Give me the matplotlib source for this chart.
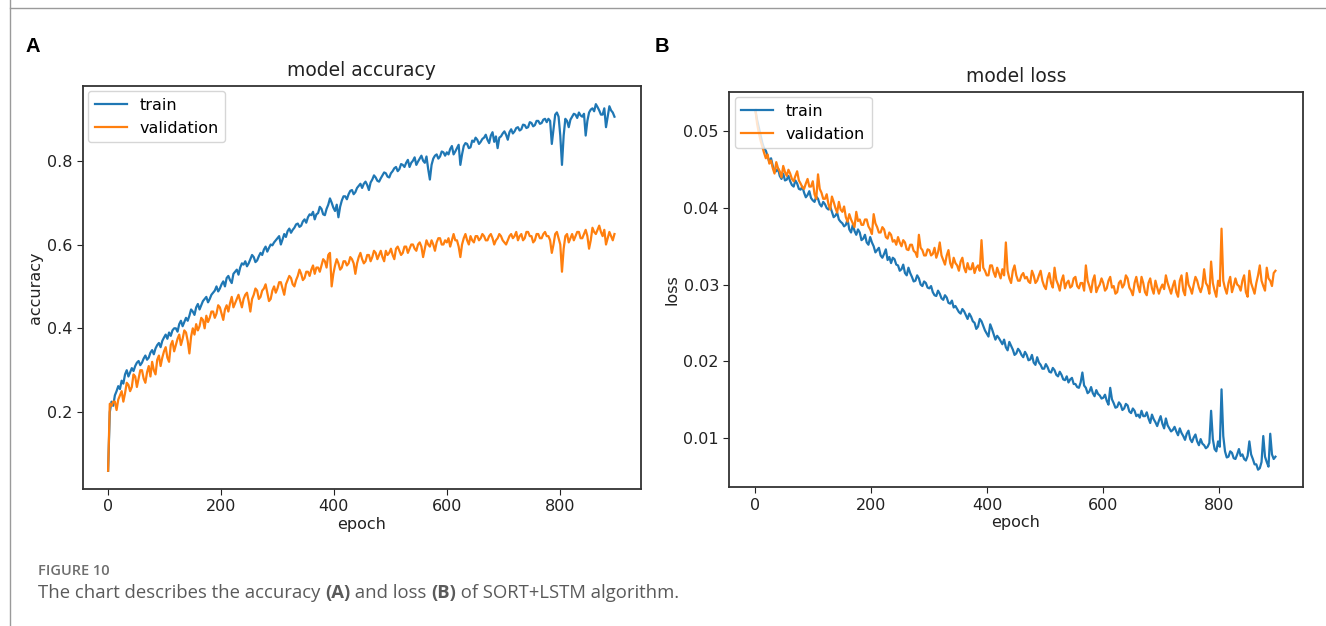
import numpy as np
import matplotlib
matplotlib.use("Agg")
import matplotlib.pyplot as plt
from matplotlib.lines import Line2D

epochs = np.arange(0, 900, 3)

acc_train = [
    0.06, 0.20, 0.225, 0.215, 0.24, 0.25, 0.262, 0.255, 0.275, 0.268, 0.29, 0.30, 0.285, 0.295, 0.305, 0.298, 0.31, 0.318, 0.322, 0.312,
    0.318, 0.328, 0.335, 0.325, 0.33, 0.342, 0.348, 0.338, 0.352, 0.36, 0.365, 0.355, 0.37, 0.378, 0.385, 0.375, 0.39, 0.382, 0.395, 0.40,
    0.40, 0.392, 0.41, 0.418, 0.405, 0.415, 0.425, 0.418, 0.43, 0.445, 0.44, 0.432, 0.45, 0.458, 0.445, 0.455, 0.465, 0.47, 0.475, 0.462,
    0.47, 0.48, 0.485, 0.49, 0.50, 0.488, 0.495, 0.505, 0.512, 0.50, 0.52, 0.525, 0.515, 0.508, 0.53, 0.535, 0.54, 0.528, 0.545, 0.555,
    0.552, 0.56, 0.548, 0.555, 0.565, 0.575, 0.57, 0.558, 0.562, 0.572, 0.58, 0.575, 0.588, 0.595, 0.583, 0.592, 0.60, 0.598, 0.605, 0.61,
    0.615, 0.62, 0.60, 0.612, 0.625, 0.618, 0.632, 0.638, 0.628, 0.635, 0.64, 0.648, 0.65, 0.642, 0.645, 0.655, 0.66, 0.652, 0.665, 0.672,
    0.67, 0.678, 0.66, 0.672, 0.675, 0.69, 0.685, 0.672, 0.67, 0.685, 0.695, 0.71, 0.70, 0.688, 0.68, 0.695, 0.665, 0.69, 0.705, 0.715,
    0.715, 0.708, 0.72, 0.728, 0.73, 0.72, 0.725, 0.735, 0.74, 0.745, 0.735, 0.745, 0.75, 0.742, 0.73, 0.748, 0.755, 0.765, 0.76, 0.752,
    0.75, 0.758, 0.765, 0.772, 0.77, 0.762, 0.76, 0.77, 0.775, 0.782, 0.785, 0.775, 0.78, 0.792, 0.79, 0.785, 0.795, 0.802, 0.785, 0.795,
    0.80, 0.808, 0.79, 0.798, 0.805, 0.812, 0.80, 0.795, 0.81, 0.78, 0.755, 0.79, 0.805, 0.812, 0.815, 0.805, 0.81, 0.822, 0.82, 0.812,
    0.82, 0.815, 0.828, 0.835, 0.815, 0.822, 0.83, 0.838, 0.79, 0.815, 0.835, 0.842, 0.84, 0.83, 0.832, 0.848, 0.845, 0.855, 0.85, 0.84,
    0.845, 0.852, 0.855, 0.862, 0.85, 0.842, 0.86, 0.868, 0.845, 0.858, 0.83, 0.855, 0.858, 0.865, 0.87, 0.862, 0.85, 0.868, 0.875, 0.865,
    0.87, 0.878, 0.88, 0.872, 0.875, 0.886, 0.885, 0.878, 0.88, 0.892, 0.89, 0.882, 0.885, 0.895, 0.895, 0.888, 0.89, 0.898, 0.90, 0.892,
    0.90, 0.895, 0.84, 0.875, 0.91, 0.915, 0.905, 0.86, 0.79, 0.86, 0.90, 0.895, 0.88, 0.898, 0.905, 0.912, 0.91, 0.902, 0.915, 0.908,
    0.905, 0.912, 0.86, 0.895, 0.915, 0.922, 0.925, 0.918, 0.935, 0.928, 0.92, 0.91, 0.91, 0.925, 0.88, 0.905, 0.93, 0.92, 0.915, 0.905,
]

acc_val = [
    0.06, 0.22, 0.215, 0.225, 0.225, 0.205, 0.23, 0.24, 0.25, 0.225, 0.245, 0.27, 0.265, 0.25, 0.26, 0.29, 0.285, 0.26, 0.28, 0.30,
    0.30, 0.28, 0.27, 0.295, 0.31, 0.285, 0.32, 0.30, 0.29, 0.325, 0.335, 0.31, 0.33, 0.345, 0.355, 0.33, 0.32, 0.36, 0.37, 0.345,
    0.36, 0.375, 0.385, 0.36, 0.375, 0.395, 0.39, 0.37, 0.34, 0.38, 0.40, 0.385, 0.41, 0.395, 0.405, 0.425, 0.42, 0.40, 0.43, 0.415,
    0.425, 0.44, 0.44, 0.425, 0.435, 0.455, 0.45, 0.435, 0.42, 0.445, 0.455, 0.44, 0.46, 0.475, 0.45, 0.46, 0.47, 0.48, 0.465, 0.45,
    0.47, 0.48, 0.485, 0.465, 0.44, 0.47, 0.48, 0.495, 0.49, 0.47, 0.475, 0.49, 0.495, 0.505, 0.485, 0.465, 0.47, 0.49, 0.50, 0.485,
    0.495, 0.51, 0.51, 0.495, 0.48, 0.505, 0.515, 0.525, 0.52, 0.505, 0.50, 0.515, 0.525, 0.54, 0.53, 0.515, 0.52, 0.535, 0.535, 0.525,
    0.54, 0.55, 0.53, 0.545, 0.545, 0.535, 0.55, 0.565, 0.56, 0.545, 0.575, 0.58, 0.50, 0.53, 0.55, 0.565, 0.555, 0.54, 0.545, 0.56,
    0.56, 0.55, 0.555, 0.57, 0.565, 0.555, 0.53, 0.555, 0.57, 0.58, 0.565, 0.555, 0.56, 0.575, 0.575, 0.56, 0.57, 0.585, 0.58, 0.565,
    0.575, 0.585, 0.57, 0.56, 0.585, 0.575, 0.58, 0.59, 0.575, 0.565, 0.59, 0.595, 0.585, 0.575, 0.58, 0.595, 0.595, 0.58, 0.59, 0.60,
    0.60, 0.59, 0.585, 0.60, 0.605, 0.595, 0.57, 0.59, 0.61, 0.60, 0.595, 0.61, 0.60, 0.585, 0.605, 0.615, 0.615, 0.60, 0.60, 0.61,
    0.605, 0.615, 0.595, 0.61, 0.625, 0.61, 0.61, 0.595, 0.57, 0.60, 0.615, 0.625, 0.61, 0.60, 0.62, 0.61, 0.605, 0.62, 0.62, 0.61,
    0.615, 0.625, 0.62, 0.61, 0.61, 0.62, 0.625, 0.615, 0.60, 0.61, 0.615, 0.625, 0.62, 0.61, 0.605, 0.60, 0.61, 0.62, 0.625, 0.615,
    0.62, 0.63, 0.61, 0.62, 0.625, 0.61, 0.615, 0.63, 0.63, 0.62, 0.62, 0.605, 0.61, 0.625, 0.625, 0.615, 0.615, 0.625, 0.63, 0.62,
    0.62, 0.61, 0.58, 0.60, 0.625, 0.63, 0.615, 0.60, 0.535, 0.59, 0.62, 0.625, 0.605, 0.615, 0.625, 0.61, 0.62, 0.63, 0.63, 0.615,
    0.615, 0.625, 0.635, 0.62, 0.59, 0.61, 0.64, 0.63, 0.625, 0.635, 0.645, 0.63, 0.62, 0.635, 0.60, 0.615, 0.63, 0.62, 0.61, 0.625,
]

loss_train = [
    0.0528, 0.0515, 0.0505, 0.0495, 0.0485, 0.0478, 0.0475, 0.0468, 0.046, 0.0465, 0.0455, 0.0448, 0.0448, 0.0452, 0.0442, 0.0438, 0.0445, 0.0436, 0.0437, 0.0442,
    0.0435, 0.043, 0.0428, 0.0436, 0.0432, 0.0425, 0.0424, 0.0428, 0.042, 0.0414, 0.0417, 0.0422, 0.0413, 0.041, 0.0408, 0.0415, 0.0412, 0.0405, 0.0402, 0.0408,
    0.0405, 0.040, 0.0398, 0.0402, 0.0395, 0.0388, 0.039, 0.0394, 0.0385, 0.0382, 0.038, 0.0376, 0.0378, 0.0385, 0.0372, 0.0368, 0.0378, 0.037, 0.0365, 0.0372,
    0.0368, 0.0358, 0.036, 0.0365, 0.0355, 0.0352, 0.0362, 0.0355, 0.035, 0.0342, 0.0345, 0.0348, 0.0338, 0.0335, 0.034, 0.0346, 0.0332, 0.0336, 0.0328, 0.0335,
    0.0333, 0.0326, 0.0325, 0.0318, 0.032, 0.0326, 0.0315, 0.0312, 0.0322, 0.0315, 0.031, 0.0304, 0.0305, 0.0312, 0.0308, 0.03, 0.0298, 0.0304, 0.0302, 0.0296,
    0.0295, 0.0298, 0.029, 0.0286, 0.0285, 0.0292, 0.0288, 0.0282, 0.028, 0.0286, 0.0283, 0.0276, 0.0275, 0.0279, 0.027, 0.0272, 0.0268, 0.0264, 0.0262, 0.0268,
    0.0265, 0.026, 0.0255, 0.0262, 0.0258, 0.0252, 0.025, 0.0242, 0.0245, 0.0255, 0.0252, 0.0246, 0.024, 0.0236, 0.0232, 0.0248, 0.0242, 0.0235, 0.0228, 0.0233,
    0.023, 0.0226, 0.0222, 0.0228, 0.0218, 0.0214, 0.0225, 0.022, 0.0215, 0.0208, 0.021, 0.0216, 0.0213, 0.0208, 0.0205, 0.0212, 0.0208, 0.0201, 0.0202, 0.0208,
    0.0198, 0.0195, 0.0205, 0.0198, 0.0195, 0.019, 0.019, 0.0196, 0.0192, 0.0186, 0.0185, 0.0191, 0.0188, 0.0182, 0.018, 0.0186, 0.0182, 0.0176, 0.0175, 0.018,
    0.0172, 0.0176, 0.0178, 0.017, 0.017, 0.0166, 0.0165, 0.0172, 0.0185, 0.0168, 0.0165, 0.0158, 0.016, 0.0166, 0.0158, 0.0154, 0.0162, 0.0157, 0.0155, 0.0151,
    0.0152, 0.0156, 0.0148, 0.0143, 0.0165, 0.015, 0.0145, 0.0139, 0.014, 0.0146, 0.0143, 0.0136, 0.0138, 0.0144, 0.0142, 0.0134, 0.0132, 0.0138, 0.0135, 0.0128,
    0.013, 0.0126, 0.0135, 0.0128, 0.0128, 0.0133, 0.0125, 0.0119, 0.013, 0.0124, 0.012, 0.0115, 0.0122, 0.0128, 0.0118, 0.0112, 0.0125, 0.0116, 0.0112, 0.0108,
    0.011, 0.0114, 0.0108, 0.0103, 0.0112, 0.0106, 0.0102, 0.0097, 0.0105, 0.0109, 0.0098, 0.0094, 0.01, 0.0104, 0.0095, 0.009, 0.0098, 0.0092, 0.009, 0.0086,
    0.0088, 0.0093, 0.0135, 0.0098, 0.0085, 0.0082, 0.0095, 0.0088, 0.0163, 0.0102, 0.0082, 0.0074, 0.0075, 0.0082, 0.008, 0.0073, 0.0072, 0.0078, 0.0085, 0.0076,
    0.0078, 0.0072, 0.007, 0.0076, 0.0095, 0.0078, 0.0072, 0.0065, 0.0065, 0.0058, 0.006, 0.0068, 0.0102, 0.0075, 0.0068, 0.0062, 0.0105, 0.0078, 0.0072, 0.0075,
]

loss_val = [
    0.0528, 0.051, 0.0498, 0.0488, 0.048, 0.0472, 0.0465, 0.047, 0.0458, 0.0462, 0.0452, 0.0445, 0.046, 0.0452, 0.0448, 0.044, 0.0455, 0.0447, 0.0442, 0.045,
    0.0445, 0.0438, 0.0435, 0.0442, 0.0448, 0.0436, 0.0432, 0.0427, 0.0425, 0.0432, 0.0438, 0.0428, 0.0428, 0.0435, 0.0418, 0.0412, 0.0444, 0.0425, 0.042, 0.0412,
    0.0412, 0.0418, 0.0405, 0.0398, 0.0415, 0.0408, 0.040, 0.0394, 0.0408, 0.0398, 0.0395, 0.0402, 0.0388, 0.0382, 0.0392, 0.0385, 0.038, 0.0375, 0.0395, 0.0383,
    0.0385, 0.0378, 0.0378, 0.0385, 0.0385, 0.0376, 0.0372, 0.0366, 0.0392, 0.038, 0.0375, 0.0368, 0.0368, 0.0375, 0.0372, 0.0362, 0.036, 0.0368, 0.0365, 0.0356,
    0.0358, 0.0352, 0.0362, 0.0355, 0.035, 0.0358, 0.0355, 0.0346, 0.0345, 0.0352, 0.0352, 0.0344, 0.0342, 0.0336, 0.0365, 0.0348, 0.0345, 0.0338, 0.0338, 0.0346,
    0.0345, 0.0338, 0.034, 0.0348, 0.0335, 0.0342, 0.0355, 0.0338, 0.0332, 0.0326, 0.0338, 0.0345, 0.0328, 0.0322, 0.0335, 0.0328, 0.0325, 0.0318, 0.033, 0.0335,
    0.0322, 0.0316, 0.0328, 0.032, 0.032, 0.0328, 0.0315, 0.0322, 0.0325, 0.0318, 0.0358, 0.0322, 0.0318, 0.0312, 0.0312, 0.0325, 0.0325, 0.0316, 0.031, 0.0322,
    0.0315, 0.0308, 0.032, 0.0312, 0.0355, 0.0318, 0.0308, 0.0302, 0.0318, 0.0325, 0.0312, 0.0305, 0.0305, 0.0312, 0.0315, 0.0308, 0.031, 0.0304, 0.0302, 0.0318,
    0.0312, 0.0302, 0.0305, 0.0312, 0.0318, 0.0305, 0.0298, 0.0294, 0.0308, 0.0315, 0.0302, 0.0296, 0.0322, 0.0306, 0.03, 0.0292, 0.0305, 0.0312, 0.0295, 0.0302,
    0.0305, 0.0296, 0.0298, 0.0308, 0.031, 0.0298, 0.0295, 0.0302, 0.0302, 0.0292, 0.0325, 0.0305, 0.0298, 0.029, 0.0305, 0.0312, 0.029, 0.0296, 0.03, 0.0308,
    0.0302, 0.0292, 0.0295, 0.0305, 0.031, 0.0296, 0.0298, 0.0288, 0.029, 0.0302, 0.0305, 0.0296, 0.03, 0.0312, 0.0308, 0.0296, 0.0292, 0.0286, 0.0302, 0.031,
    0.0298, 0.029, 0.031, 0.0302, 0.029, 0.0286, 0.0302, 0.0308, 0.0295, 0.0288, 0.0305, 0.0296, 0.0288, 0.0295, 0.03, 0.0294, 0.0312, 0.0302, 0.0295, 0.0288,
    0.0298, 0.0305, 0.029, 0.0284, 0.0305, 0.0312, 0.0292, 0.0286, 0.0315, 0.03, 0.0295, 0.0288, 0.03, 0.031, 0.0305, 0.0296, 0.029, 0.0298, 0.032, 0.0302,
    0.0298, 0.0288, 0.033, 0.0302, 0.0292, 0.0284, 0.0305, 0.0298, 0.0373, 0.0305, 0.0295, 0.0288, 0.0302, 0.031, 0.029, 0.0298, 0.0308, 0.03, 0.0298, 0.0292,
    0.0305, 0.0312, 0.029, 0.0284, 0.0318, 0.0302, 0.0295, 0.0288, 0.0302, 0.0312, 0.0325, 0.0305, 0.0298, 0.0292, 0.0322, 0.0308, 0.0305, 0.0298, 0.0315, 0.0318,
]

legend_labels = ["train", "validation"]
x_ticks = [0, 200, 400, 600, 800]
acc_ticks = [0.2, 0.4, 0.6, 0.8]
loss_ticks = [0.01, 0.02, 0.03, 0.04, 0.05]

BLUE = "#1f77b4"
ORANGE = "#ff7f0e"

W, H = 1326, 626
fig = plt.figure(figsize=(W / 100, H / 100), dpi=100)
fig.patch.set_facecolor("white")

TICK_FS = 11.5
LABEL_FS = 11.5
TITLE_FS = 13.5


def px_rect(l, t, r, b):
    return [l / W, 1 - b / H, (r - l) / W, (b - t) / H]


ax1 = fig.add_axes(px_rect(82.7, 85.7, 641, 489))
ax2 = fig.add_axes(px_rect(729.3, 91.7, 1302.7, 487.3))

for ax, tr, va, title, ylabel, yt, fmt in [
    (ax1, acc_train, acc_val, "model accuracy", "accuracy", acc_ticks, "{:.1f}"),
    (ax2, loss_train, loss_val, "model loss", "loss", loss_ticks, "{:.2f}"),
]:
    ax.plot(epochs, tr, color=BLUE, lw=1.6, label=legend_labels[0])
    ax.plot(epochs, va, color=ORANGE, lw=1.6, label=legend_labels[1])
    ax.set_xlim(-45, 944)
    ax.set_xticks(x_ticks)
    ax.set_yticks(yt)
    ax.set_yticklabels([fmt.format(v) for v in yt])
    ax.tick_params(labelsize=TICK_FS, colors="#222222", length=4)
    ax.set_title(title, fontsize=TITLE_FS, color="#222222", pad=7)
    ax.set_xlabel("epoch", fontsize=LABEL_FS, color="#222222", labelpad=2)
    ax.set_ylabel(ylabel, fontsize=LABEL_FS, color="#222222", labelpad=3)
    for s in ax.spines.values():
        s.set_color("#333333")
        s.set_linewidth(1.3)
    ax.legend(loc="upper left", fontsize=LABEL_FS, handlelength=2.0,
              borderaxespad=0.35, framealpha=0.8, edgecolor="#cccccc")

ax1.set_ylim(0.0165, 0.979)
ax2.set_ylim(0.0035, 0.0552)

# panel letters
fig.text(26 / W, 1 - 47 / H, "A", fontsize=14.5, fontweight="bold", va="center",
         family="Liberation Sans")
fig.text(655 / W, 1 - 47 / H, "B", fontsize=14.5, fontweight="bold", va="center",
         family="Liberation Sans")

# frame lines of the page
fig.add_artist(Line2D([10 / W, 10 / W], [0, 1], transform=fig.transFigure,
                      color="#9a9a9a", lw=1.0))
fig.add_artist(Line2D([10 / W, 1], [1 - 8 / H, 1 - 8 / H], transform=fig.transFigure,
                      color="#9a9a9a", lw=1.0))

# caption
fig.text(38 / W, 1 - 571 / H, "FIGURE 10", fontsize=10.5, color="#6e6e6e",
         va="center", family="Open Sans", fontweight="semibold")

cap_parts = [
    ("The chart describes the accuracy ", "normal"),
    ("(A)", "bold"),
    (" and loss ", "normal"),
    ("(B)", "bold"),
    (" of SORT+LSTM algorithm.", "normal"),
]
fig.canvas.draw()
renderer = fig.canvas.get_renderer()
xpos = 38
for txt, wt in cap_parts:
    t = fig.text(xpos / W, 1 - 593 / H, txt, fontsize=13.3, color="#5a5a5a",
                 va="center", family="Open Sans", fontweight=wt)
    bb = t.get_window_extent(renderer=renderer)
    xpos += bb.width

fig.savefig("out.png", dpi=100, facecolor="white")
